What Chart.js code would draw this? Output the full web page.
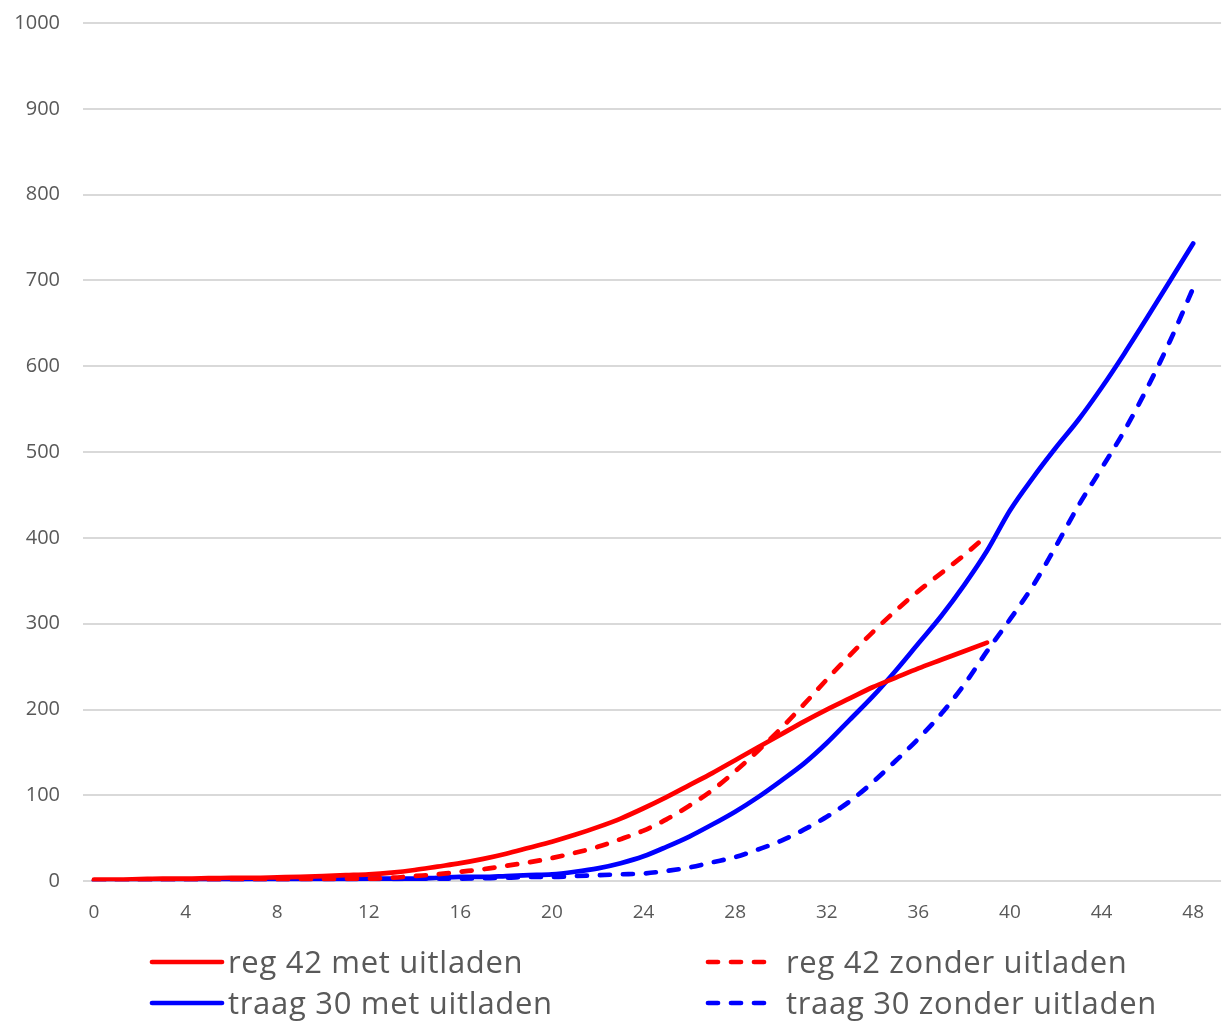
<!DOCTYPE html>
<html>
<head>
<meta charset="utf-8">
<script src="https://cdn.jsdelivr.net/npm/chart.js@4.4.1/dist/chart.umd.min.js"></script>
<style>
  html, body { margin: 0; padding: 0; background: #ffffff; }
  #wrap { width: 1224px; height: 1021px; position: relative; }
</style>
</head>
<body>
<div id="wrap"><canvas id="c"></canvas></div>
<script>
// ---- data ----
const hours = Array.from({length: 49}, (_, i) => i);
const xTickLabels = [0, 4, 8, 12, 16, 20, 24, 28, 32, 36, 40, 44, 48];
const yTickLabels = [0, 100, 200, 300, 400, 500, 600, 700, 800, 900, 1000];

const seriesNames = ['reg 42 met uitladen', 'reg 42 zonder uitladen', 'traag 30 met uitladen', 'traag 30 zonder uitladen'];

const reg42Met = [2, 2, 2.5, 3, 3, 3.5, 4, 4, 4.5, 5, 6, 7, 8, 10, 13, 17, 21, 26, 32, 39,
  46, 54, 63, 73, 85, 98, 112, 126, 141, 156, 171, 186, 200, 213, 226, 237, 248, 258, 268, 278];
const reg42Zonder = [1, 1, 1, 1, 1.5, 1.5, 2, 2, 2, 2.5, 2.5, 3, 3, 4, 6, 8, 11, 14, 18, 22,
  27, 33, 40, 49, 59, 72, 88, 106, 128, 152, 178, 206, 235, 263, 290, 315, 338, 359, 380, 403];
const traag30Met = [1, 1, 1, 1, 1.5, 1.5, 1.5, 2, 2, 2, 2.5, 2.5, 3, 3, 3, 4, 5, 5, 6, 7,
  8, 11, 15, 21, 29, 40, 52, 66, 81, 98, 117, 137, 161, 188, 215, 245, 277, 309, 345, 385,
  432, 470, 505, 538, 575, 615, 657, 700, 743];
const traag30Zonder = [0, 0, 0.5, 0.5, 1, 1, 1, 1.5, 1.5, 2, 2, 2, 2.5, 2.5, 3, 3, 3, 3.5, 4, 5,
  5, 6, 7, 8, 9, 12, 16, 22, 28, 37, 47, 60, 75, 93, 115, 140, 166, 195, 229, 268,
  305, 344, 390, 438, 481, 525, 575, 630, 691];

const colors = ['#ff0000', '#ff0000', '#0000ff', '#0000ff'];
const dashed = [false, true, false, true];
const seriesValues = [reg42Met, reg42Zonder, traag30Met, traag30Zonder];

const FONT = '"Open Sans", Lato, sans-serif';
const DASH = [10, 13];
const LW = 4.7;

const datasets = seriesValues.map((vals, i) => ({
  label: seriesNames[i],
  data: vals.map((v, j) => ({x: hours[j], y: v})),
  borderColor: colors[i],
  backgroundColor: colors[i],
  borderWidth: LW,
  borderDash: dashed[i] ? DASH : [],
  borderCapStyle: 'round',
  borderJoinStyle: 'round',
  pointRadius: 0,
  pointHoverRadius: 0,
  cubicInterpolationMode: 'monotone',
  fill: false
}));

// custom two-column legend drawn on the canvas
const legendPlugin = {
  id: 'colLegend',
  afterDraw(chart) {
    const ctx = chart.ctx;
    const colX = [152, 708];
    const rowBase = [973, 1014];
    const sampleW = [70, 64];
    const textGap = [6, 14];
    ctx.save();
    ctx.font = '31px ' + FONT;
    if ('letterSpacing' in ctx) ctx.letterSpacing = '0.7px';
    ctx.textBaseline = 'alphabetic';
    ctx.fillStyle = '#595959';
    for (let i = 0; i < 4; i++) {
      const col = i % 2, row = Math.floor(i / 2);
      const x = colX[col], yb = rowBase[row];
      const y = yb - 11;
      ctx.beginPath();
      ctx.strokeStyle = colors[i];
      ctx.lineWidth = LW;
      ctx.lineCap = 'round';
      ctx.setLineDash(dashed[i] ? DASH : []);
      ctx.moveTo(x, y);
      ctx.lineTo(x + sampleW[col], y);
      ctx.stroke();
      ctx.setLineDash([]);
      ctx.fillText(seriesNames[i], x + sampleW[col] + textGap[col], yb);
    }
    ctx.restore();
  }
};

new Chart(document.getElementById('c'), {
  type: 'line',
  data: { datasets },
  options: {
    responsive: true,
    maintainAspectRatio: false,
    animation: false,
    layout: { padding: { top: 23, right: 0, bottom: 77, left: 0 } },
    plugins: {
      legend: { display: false },
      tooltip: { enabled: false }
    },
    scales: {
      x: {
        type: 'linear',
        min: -0.48,
        max: 49.22,
        afterBuildTicks(scale) { scale.ticks = xTickLabels.map(v => ({value: v})); },
        grid: { display: false, drawTicks: false },
        border: { display: false },
        ticks: {
          color: '#595959',
          font: { family: FONT, size: 19 },
          padding: 20,
          maxRotation: 0,
          autoSkip: false,
          callback: v => String(v)
        }
      },
      y: {
        min: 0,
        max: 1000,
        afterBuildTicks(scale) { scale.ticks = yTickLabels.map(v => ({value: v})); },
        afterFit(scale) { scale.width = 83; },
        grid: { color: '#d9d9d9', lineWidth: 2, drawTicks: true, tickLength: 23, tickColor: 'rgba(0,0,0,0)' },
        border: { display: false },
        ticks: {
          color: '#595959',
          font: { family: FONT, size: 20 },
          padding: 0,
          callback: v => String(v)
        }
      }
    }
  },
  plugins: [legendPlugin]
});
</script>
</body>
</html>
